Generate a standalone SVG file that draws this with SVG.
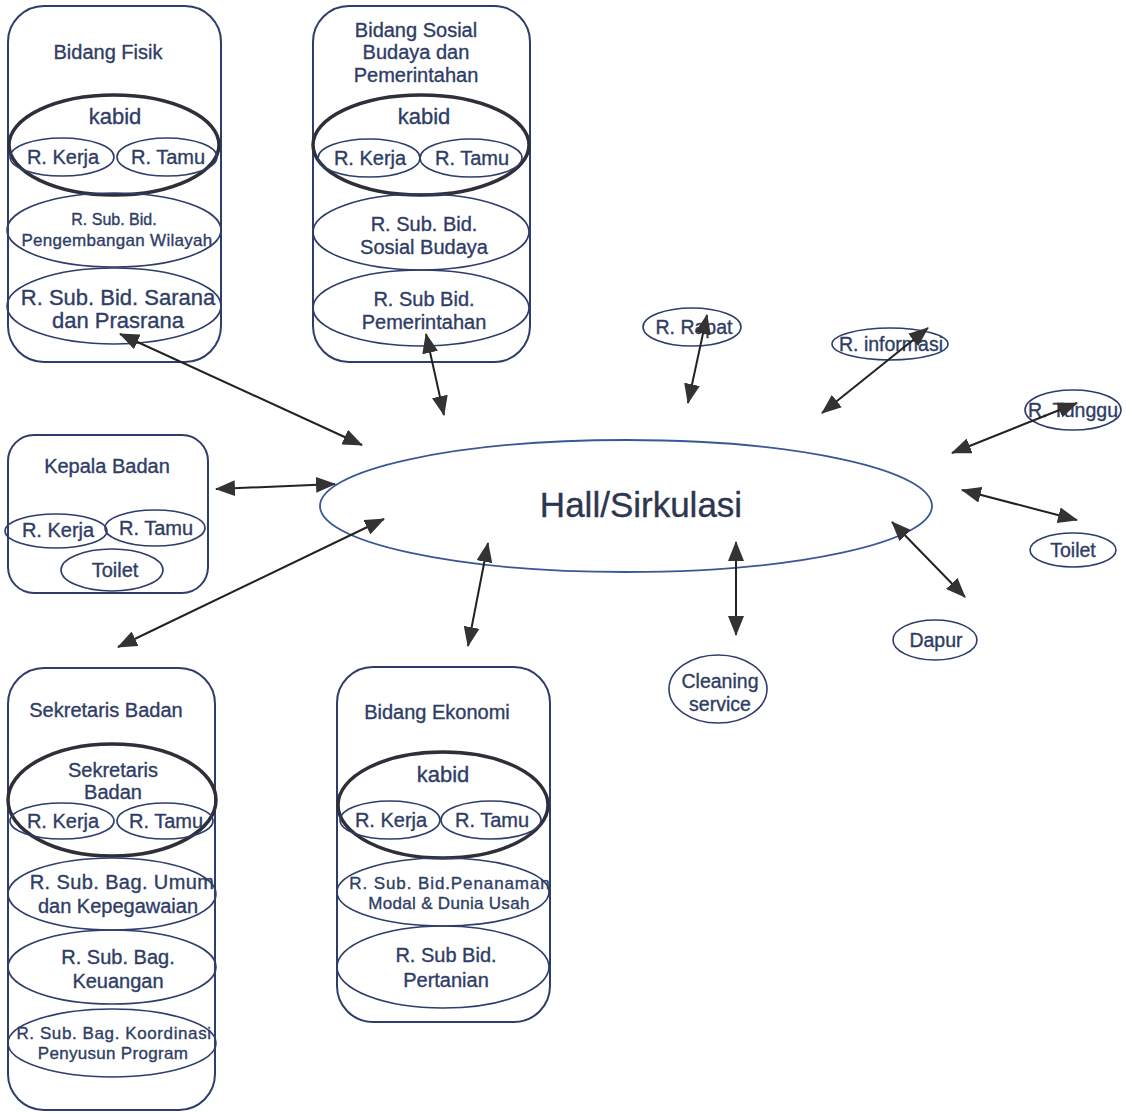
<svg xmlns="http://www.w3.org/2000/svg" width="1126" height="1113" viewBox="0 0 1126 1113">
  <style>
    .box { fill: none; stroke: #2e3d6b; stroke-width: 2; }
    .room { fill: none; stroke: #2e3d6b; stroke-width: 1.6; }
    .head { fill: none; stroke: #2f2f3a; stroke-width: 3.5; }
    .hall { fill: none; stroke: #3a5796; stroke-width: 1.8; }
    .link { stroke: #222; stroke-width: 2; fill: none; marker-start: url(#tip); marker-end: url(#tip); }
    text { font-family: "Liberation Sans", Arial, sans-serif; fill: #2f3d66; stroke: #2f3d66; stroke-width: 0.35; text-anchor: middle; }
    .t20 { font-size: 20px; }
    .t22 { font-size: 22px; }
    .t17 { font-size: 17px; }
    .t16 { font-size: 16px; }
    .t19 { font-size: 19.5px; }
    .big { font-size: 35px; fill: #2d3650; stroke: #2d3650; }
  </style>
  <defs>
    <marker id="tip" viewBox="0 0 20 16" refX="19" refY="8" markerWidth="20" markerHeight="16" markerUnits="userSpaceOnUse" orient="auto-start-reverse">
      <path d="M0,0 L20,8 L0,16 z" fill="#333"/>
    </marker>
  </defs>
  <rect width="1126" height="1113" fill="#fff"/>

  <!-- Bidang Fisik -->
  <g id="bidang-fisik">
    <rect class="box" x="8" y="6" width="213" height="356" rx="36"/>
    <text class="t20" x="108" y="59">Bidang Fisik</text>
    <ellipse class="head" cx="114" cy="145" rx="105" ry="50"/>
    <text class="t22" x="115" y="124">kabid</text>
    <ellipse class="room" cx="62" cy="157" rx="52" ry="19"/>
    <text class="t20" x="63" y="164">R. Kerja</text>
    <ellipse class="room" cx="167" cy="157" rx="50" ry="19"/>
    <text class="t20" x="168" y="164">R. Tamu</text>
    <ellipse class="room" cx="114" cy="230" rx="107" ry="37"/>
    <text class="t16" x="114" y="225">R. Sub. Bid.</text>
    <text class="t17" x="117" y="246" letter-spacing="0.3">Pengembangan Wilayah</text>
    <ellipse class="room" cx="114" cy="306" rx="107" ry="38"/>
    <text class="t22" x="118" y="305">R. Sub. Bid. Sarana</text>
    <text class="t22" x="118" y="328">dan Prasrana</text>
  </g>

  <!-- Bidang Sosial Budaya dan Pemerintahan -->
  <g id="bidang-sosial">
    <rect class="box" x="313" y="6" width="217" height="356" rx="36"/>
    <text class="t20" x="416" y="37">Bidang Sosial</text>
    <text class="t20" x="416" y="59">Budaya dan</text>
    <text class="t20" x="416" y="82">Pemerintahan</text>
    <ellipse class="head" cx="421" cy="145" rx="108" ry="50"/>
    <text class="t22" x="424" y="124">kabid</text>
    <ellipse class="room" cx="369" cy="158" rx="51" ry="19"/>
    <text class="t20" x="370" y="165">R. Kerja</text>
    <ellipse class="room" cx="471" cy="158" rx="51" ry="19"/>
    <text class="t20" x="472" y="165">R. Tamu</text>
    <ellipse class="room" cx="421" cy="232" rx="108" ry="38"/>
    <text class="t20" x="424" y="231">R. Sub. Bid.</text>
    <text class="t20" x="424" y="254">Sosial Budaya</text>
    <ellipse class="room" cx="421" cy="308" rx="108" ry="38"/>
    <text class="t20" x="424" y="306">R. Sub Bid.</text>
    <text class="t20" x="424" y="329">Pemerintahan</text>
  </g>

  <!-- Kepala Badan -->
  <g id="kepala-badan">
    <rect class="box" x="8" y="435" width="200" height="158" rx="26"/>
    <text class="t20" x="107" y="473">Kepala Badan</text>
    <ellipse class="room" cx="56" cy="531" rx="51" ry="17"/>
    <text class="t20" x="58" y="537">R. Kerja</text>
    <ellipse class="room" cx="155" cy="528" rx="50" ry="18"/>
    <text class="t20" x="156" y="535">R. Tamu</text>
    <ellipse class="room" cx="112" cy="570" rx="51" ry="21"/>
    <text class="t20" x="115" y="577">Toilet</text>
  </g>

  <!-- Sekretaris Badan -->
  <g id="sekretaris-badan">
    <rect class="box" x="8" y="668" width="207" height="442" rx="36"/>
    <text class="t20" x="106" y="717">Sekretaris Badan</text>
    <ellipse class="head" cx="112" cy="800" rx="104" ry="56"/>
    <text class="t20" x="113" y="777">Sekretaris</text>
    <text class="t20" x="113" y="799">Badan</text>
    <ellipse class="room" cx="62" cy="821" rx="52" ry="18"/>
    <text class="t20" x="63" y="828">R. Kerja</text>
    <ellipse class="room" cx="165" cy="821" rx="48" ry="18"/>
    <text class="t20" x="166" y="828">R. Tamu</text>
    <ellipse class="room" cx="112" cy="894" rx="104" ry="36"/>
    <text class="t20" x="122" y="889" letter-spacing="0.4">R. Sub. Bag. Umum</text>
    <text class="t20" x="118" y="913">dan Kepegawaian</text>
    <ellipse class="room" cx="112" cy="967" rx="104" ry="37"/>
    <text class="t20" x="118" y="964">R. Sub. Bag.</text>
    <text class="t20" x="118" y="988">Keuangan</text>
    <ellipse class="room" cx="112" cy="1043" rx="104" ry="34"/>
    <text class="t17" x="114" y="1039" letter-spacing="0.6">R. Sub. Bag. Koordinasi</text>
    <text class="t17" x="113" y="1059" letter-spacing="0.3">Penyusun Program</text>
  </g>

  <!-- Bidang Ekonomi -->
  <g id="bidang-ekonomi">
    <rect class="box" x="337" y="667" width="213" height="355" rx="36"/>
    <text class="t20" x="437" y="719">Bidang Ekonomi</text>
    <ellipse class="head" cx="443" cy="805" rx="105" ry="53"/>
    <text class="t22" x="443" y="782">kabid</text>
    <ellipse class="room" cx="390" cy="820" rx="50" ry="19"/>
    <text class="t20" x="391" y="827">R. Kerja</text>
    <ellipse class="room" cx="491" cy="820" rx="50" ry="19"/>
    <text class="t20" x="492" y="827">R. Tamu</text>
    <ellipse class="room" cx="443" cy="892" rx="106" ry="34"/>
    <text class="t17" x="450" y="889" letter-spacing="0.9">R. Sub. Bid.Penanaman</text>
    <text class="t17" x="449" y="909" letter-spacing="0.3">Modal &amp; Dunia Usah</text>
    <ellipse class="room" cx="443" cy="967" rx="106" ry="41"/>
    <text class="t20" x="446" y="962">R. Sub Bid.</text>
    <text class="t20" x="446" y="987">Pertanian</text>
  </g>

  <!-- Hall / Sirkulasi -->
  <g id="hall">
    <ellipse class="hall" cx="626" cy="506" rx="306" ry="66"/>
    <text class="big" x="641" y="517">Hall/Sirkulasi</text>
  </g>

  <!-- Service rooms -->
  <g id="r-rapat">
    <ellipse class="room" cx="692" cy="327" rx="49" ry="19"/>
    <text class="t19" x="694" y="334">R. Rapat</text>
  </g>
  <g id="r-informasi">
    <ellipse class="room" cx="890" cy="344" rx="58" ry="16"/>
    <text class="t19" x="891" y="351">R. informasi</text>
  </g>
  <g id="r-tunggu">
    <ellipse class="room" cx="1073" cy="410" rx="48" ry="20"/>
    <text class="t19" x="1073" y="417">R. Tunggu</text>
  </g>
  <g id="toilet">
    <ellipse class="room" cx="1073" cy="550" rx="43" ry="17"/>
    <text class="t19" x="1073" y="557">Toilet</text>
  </g>
  <g id="dapur">
    <ellipse class="room" cx="935" cy="640" rx="42" ry="20"/>
    <text class="t19" x="936" y="647">Dapur</text>
  </g>
  <g id="cleaning-service">
    <ellipse class="room" cx="718" cy="689" rx="49" ry="34"/>
    <text class="t19" x="720" y="688">Cleaning</text>
    <text class="t19" x="720" y="711">service</text>
  </g>

  <!-- Connectors: two-way links to the hall -->
  <g id="connectors">
    <line class="link" x1="120" y1="334" x2="362" y2="445"/>
    <line class="link" x1="426" y1="334" x2="444" y2="415"/>
    <line class="link" x1="216" y1="489" x2="335" y2="484"/>
    <line class="link" x1="384" y1="519" x2="118" y2="647"/>
    <line class="link" x1="488" y1="543" x2="468" y2="646"/>
    <line class="link" x1="736" y1="542" x2="736" y2="635"/>
    <line class="link" x1="892" y1="522" x2="965" y2="597"/>
    <line class="link" x1="962" y1="490" x2="1077" y2="520"/>
    <line class="link" x1="952" y1="453" x2="1077" y2="403"/>
    <line class="link" x1="822" y1="413" x2="928" y2="328"/>
    <line class="link" x1="688" y1="403" x2="707" y2="315"/>
  </g>
</svg>
